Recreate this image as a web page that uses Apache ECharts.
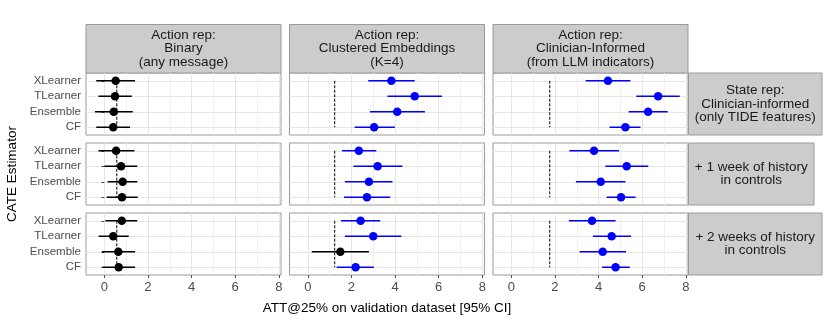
<!DOCTYPE html>
<html>
<head>
<meta charset="utf-8">
<script src="https://cdn.jsdelivr.net/npm/echarts@6/dist/echarts.min.js"></script>
<style>
  html, body { margin: 0; padding: 0; background: #fff; }
  #main { width: 830px; height: 332px; }
</style>
</head>
<body>
<div id="main"></div>
<script>
const estimators = ['XLearner', 'TLearner', 'Ensemble', 'CF'];
const actionReps = [
  'Action rep:\nBinary\n(any message)',
  'Action rep:\nClustered Embeddings\n(K=4)',
  'Action rep:\nClinician-Informed\n(from LLM indicators)'
];
const stateReps = [
  'State rep:\nClinician-informed\n(only TIDE features)',
  '+ 1 week of history\nin controls',
  '+ 2 weeks of history\nin controls'
];
const xTicks = [0, 2, 4, 6, 8];
// dashed reference line per action rep
const baselines = [0.57, 1.23, 1.76];

// [row][estimator]
const attBinary = [[0.52, 0.49, 0.43, 0.41], [0.54, 0.77, 0.84, 0.81], [0.80, 0.41, 0.64, 0.66]];
const loBinary = [[-0.37, -0.27, -0.43, -0.37], [-0.27, 0.00, 0.15, 0.11], [0.05, -0.26, -0.11, -0.09]];
const hiBinary = [[1.41, 1.26, 1.30, 1.18], [1.38, 1.51, 1.51, 1.53], [1.51, 1.12, 1.41, 1.41]];

const attCluster = [[3.83, 4.90, 4.10, 3.04], [2.34, 3.20, 2.80, 2.71], [2.42, 3.00, 1.49, 2.19]];
const loCluster = [[2.77, 3.65, 2.85, 2.15], [1.57, 2.09, 1.70, 1.66], [1.52, 1.70, 0.18, 1.32]];
const hiCluster = [[4.90, 6.15, 5.37, 3.99], [3.14, 4.34, 3.88, 3.78], [3.32, 4.29, 2.80, 3.03]];

const attClinic = [[4.43, 6.73, 6.27, 5.23], [3.79, 5.29, 4.10, 5.03], [3.70, 4.60, 4.19, 4.78]];
const loClinic = [[3.41, 5.73, 5.38, 4.50], [2.66, 4.31, 2.96, 4.37], [2.64, 3.74, 3.13, 4.16]];
const hiClinic = [[5.46, 7.72, 7.17, 5.92], [4.94, 6.28, 5.23, 5.70], [4.78, 5.49, 5.26, 5.43]];

const attAll = [attBinary, attCluster, attClinic];
const loAll = [loBinary, loCluster, loClinic];
const hiAll = [hiBinary, hiCluster, hiClinic];

const FONT = "'Liberation Sans', Arial, sans-serif";
const colLeft = [86, 289.5, 493];
const rowTop = [73, 143, 213];
const panelW = 195;
const panelH = 62;
const stripRight = [822, 814, 822];

const chart = echarts.init(document.getElementById('main'));

const grids = [], xAxes = [], yAxes = [], series = [];
let idx = 0;
for (let r = 0; r < 3; r++) {
  for (let c = 0; c < 3; c++) {
    const bottom = r === 2;
    const left = c === 0;
    grids.push({
      left: colLeft[c], top: rowTop[r], width: panelW, height: panelH,
      show: true, borderColor: '#9a9a9a', borderWidth: 1, backgroundColor: '#fff'
    });
    xAxes.push({
      type: 'value', gridIndex: idx, min: -0.84, max: 8.1,
      minInterval: 2, maxInterval: 2,
      axisLine: { show: false },
      axisTick: { show: bottom, length: 3, customValues: xTicks, lineStyle: { color: '#4d4d4d' } },
      axisLabel: {
        show: bottom, customValues: xTicks, color: '#4d4d4d', fontSize: 13,
        fontFamily: FONT, margin: 6
      },
      splitLine: { show: true, lineStyle: { color: '#e6e6e6', width: 1 } },
      minorTick: { show: false, splitNumber: 2 },
      minorSplitLine: { show: true, lineStyle: { color: '#f0f0f0', width: 1 } }
    });
    yAxes.push({
      type: 'category', gridIndex: idx, data: estimators, inverse: true,
      axisLine: { show: false },
      axisTick: { show: left, interval: 0, alignWithLabel: true, length: 3, lineStyle: { color: '#4d4d4d' } },
      axisLabel: { show: left, interval: 0, color: '#4d4d4d', fontSize: 11.5, fontFamily: FONT, margin: 5 },
      splitLine: { show: true, interval: 0, alignWithLabel: true, lineStyle: { color: '#e6e6e6', width: 1 } }
    });

    const att = attAll[c][r], lo = loAll[c][r], hi = hiAll[c][r];
    const base = baselines[c];
    const colorOf = (i) => (c > 0 && lo[i] > base ? '#0000ff' : '#000000');

    series.push({
      type: 'line', xAxisIndex: idx, yAxisIndex: idx, z: 1,
      symbol: 'none', silent: true,
      lineStyle: { color: '#2b2b2b', width: 1.2, type: [3, 1.5] },
      data: [[base, estimators[0]], [base, estimators[3]]]
    });
    series.push({
      type: 'custom', xAxisIndex: idx, yAxisIndex: idx, z: 2,
      data: estimators.map((e, i) => ({ value: [lo[i], hi[i], i], itemStyle: { color: colorOf(i) } })),
      encode: { x: [0, 1], y: 2 },
      renderItem: function (params, api) {
        const p0 = api.coord([api.value(0), api.value(2)]);
        const p1 = api.coord([api.value(1), api.value(2)]);
        return {
          type: 'line',
          shape: { x1: p0[0], y1: p0[1], x2: p1[0], y2: p1[1] },
          style: { stroke: api.visual('color'), lineWidth: 1.5 }
        };
      }
    });
    series.push({
      type: 'scatter', xAxisIndex: idx, yAxisIndex: idx, z: 3,
      symbolSize: 8.5,
      itemStyle: { opacity: 1 },
      data: estimators.map((e, i) => ({ value: [att[i], e], itemStyle: { color: colorOf(i), opacity: 1 } }))
    });
    idx++;
  }
}

const graphics = [];
// column strips
for (let c = 0; c < 3; c++) {
  graphics.push({
    type: 'rect', shape: { x: colLeft[c], y: 24.5, width: panelW, height: 48.5 },
    style: { fill: '#cccccc', stroke: '#9a9a9a', lineWidth: 1 }
  });
  graphics.push({
    type: 'text', x: colLeft[c] + panelW / 2, y: 48.5,
    style: {
      text: actionReps[c], fill: '#1a1a1a', font: '13.5px ' + FONT,
      align: 'center', verticalAlign: 'middle', lineHeight: 13.4
    }
  });
}
// row strips
for (let r = 0; r < 3; r++) {
  const w = stripRight[r] - 688.5;
  graphics.push({
    type: 'rect', shape: { x: 688.5, y: rowTop[r], width: w, height: panelH },
    style: { fill: '#cccccc', stroke: '#9a9a9a', lineWidth: 1 }
  });
  graphics.push({
    type: 'text', x: 688.5 + w / 2, y: rowTop[r] + panelH / 2,
    style: {
      text: stateReps[r], fill: '#1a1a1a', font: '13.5px ' + FONT,
      align: 'center', verticalAlign: 'middle', lineHeight: 13.4
    }
  });
}
// axis titles
graphics.push({
  type: 'text', x: 387, y: 308,
  style: {
    text: 'ATT@25% on validation dataset [95% CI]', fill: '#000', font: '13.5px ' + FONT,
    align: 'center', verticalAlign: 'middle'
  }
});
graphics.push({
  type: 'text', x: 12, y: 174, rotation: Math.PI / 2,
  style: {
    text: 'CATE Estimator', fill: '#000', font: '13.5px ' + FONT,
    align: 'center', verticalAlign: 'middle'
  }
});

chart.setOption({
  backgroundColor: '#fff',
  animation: false,
  grid: grids,
  xAxis: xAxes,
  yAxis: yAxes,
  series: series,
  graphic: graphics
});
</script>
</body>
</html>
